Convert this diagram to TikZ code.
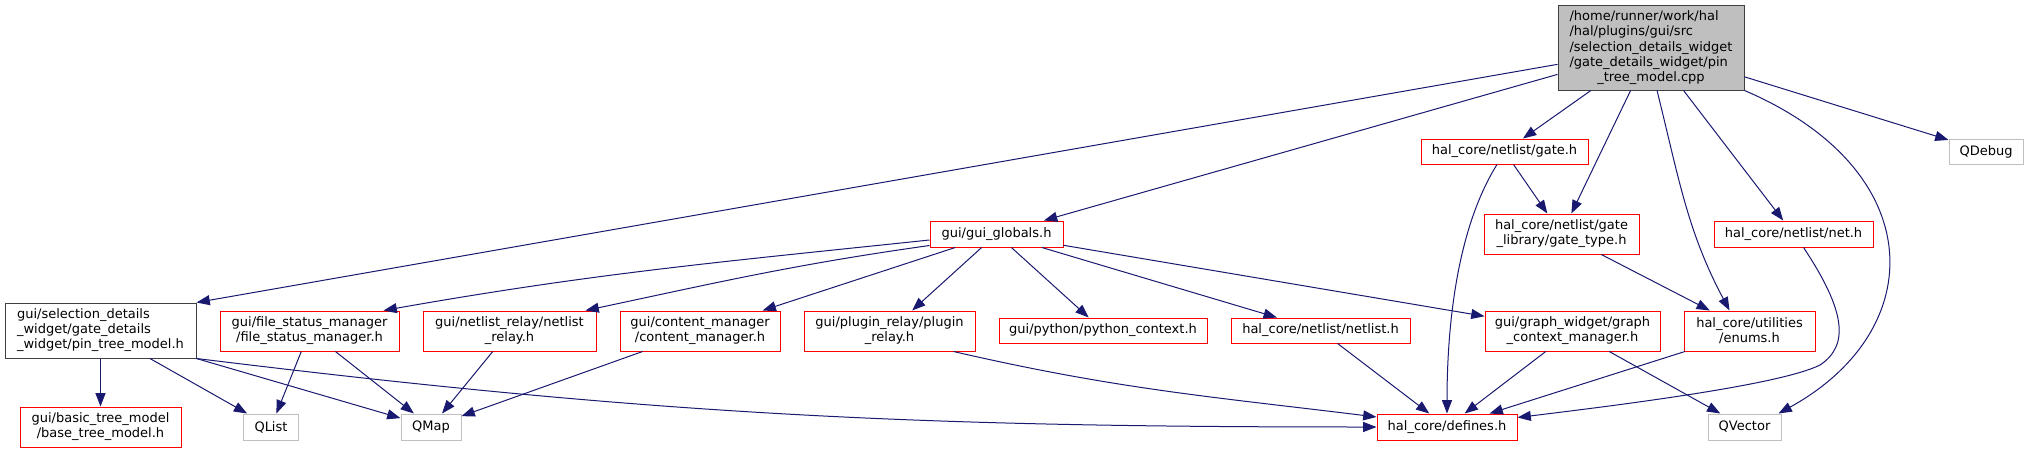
\documentclass[tikz,border=0pt]{standalone}
\usepackage{fontspec}
\setmainfont{DejaVu Sans}
\usetikzlibrary{arrows.meta,calc}

\definecolor{edgeblue}{RGB}{25,25,112}
\definecolor{boxred}{RGB}{255,0,0}
\definecolor{extgrey}{RGB}{191,191,191}
\definecolor{darkgrey}{RGB}{64,64,64}

\begin{document}
\begin{tikzpicture}[x=0.75pt, y=-0.75pt,
  >={Triangle[length=10pt,width=7.5pt]},
  hdr/.style={draw=boxred, line width=0.75pt, fill=white, align=center,
    inner sep=1pt, font=\fontsize{9.75}{11.25}\selectfont},
  ext/.style={hdr, draw=extgrey},
  sz/.style 2 args={minimum width=#1, minimum height=#2},
  dep/.style={->, draw=edgeblue, line width=0.75pt}]

\useasboundingbox (0,0) rectangle (2029,453);

% ===== ROOT FILE =====
\node[hdr, draw=darkgrey, fill=extgrey, sz={139.5pt}{63pt}] (root) at (1651,48)
  {\begin{tabular}{@{}l@{}}/home/runner/work/hal\\/hal/plugins/gui/src\\/selection\_details\_widget\\/gate\_details\_widget/pin\\\multicolumn{1}{@{}c@{}}{\_tree\_model.cpp}\end{tabular}};

% ===== FIRST LEVEL =====
\node[hdr, sz={125.25pt}{18.75pt}] (gate) at (1504.5,151.5) {hal\_core/netlist/gate.h};
\node[ext, sz={55.5pt}{18.75pt}] (qdebug) at (1986,151.5) {QDebug};
\node[hdr, sz={99.75pt}{19.5pt}] (globals) at (996.5,234) {gui/gui\_globals.h};
\node[hdr, sz={116.25pt}{30pt}] (gtype) at (1561.5,234) {hal\_core/netlist/gate\\\_library/gate\_type.h};
\node[hdr, sz={119.25pt}{19.5pt}] (net) at (1793.5,234) {hal\_core/netlist/net.h};

% ===== SECOND LEVEL =====
\node[hdr, draw=darkgrey, align=left, sz={143.25pt}{41.25pt}] (pin) at (100.5,330.5)
  {gui/selection\_details\\\_widget/gate\_details\\\_widget/pin\_tree\_model.h};
\node[hdr, sz={134.25pt}{30pt}] (fsm) at (309.5,331) {gui/file\_status\_manager\\/file\_status\_manager.h};
\node[hdr, sz={129.75pt}{30pt}] (nrelay) at (509.5,331) {gui/netlist\_relay/netlist\\\_relay.h};
\node[hdr, sz={120pt}{30pt}] (cmgr) at (700,331) {gui/content\_manager\\/content\_manager.h};
\node[hdr, sz={128.25pt}{30pt}] (prelay) at (889.5,331) {gui/plugin\_relay/plugin\\\_relay.h};
\node[hdr, sz={156pt}{18.75pt}] (python) at (1103,330.5) {gui/python/python\_context.h};
\node[hdr, sz={134.25pt}{18.75pt}] (netlist) at (1320.5,330.5) {hal\_core/netlist/netlist.h};
\node[hdr, sz={131.25pt}{30pt}] (gcm) at (1572.5,331) {gui/graph\_widget/graph\\\_context\_manager.h};
\node[hdr, sz={98.25pt}{30pt}] (enums) at (1749.5,331) {hal\_core/utilities\\/enums.h};

% ===== BOTTOM LEVEL =====
\node[hdr, sz={120.75pt}{30pt}] (btm) at (100.5,427) {gui/basic\_tree\_model\\/base\_tree\_model.h};
\node[ext, sz={41.25pt}{19.5pt}] (qlist) at (271,427) {QList};
\node[ext, sz={45pt}{19.5pt}] (qmap) at (431,427) {QMap};
\node[hdr, sz={105pt}{19.5pt}] (defines) at (1447,427) {hal\_core/defines.h};
\node[ext, sz={54.75pt}{19.5pt}] (qvector) at (1744.5,427) {QVector};

% ===== EDGES FROM ROOT =====
\draw[dep] (root) -- (pin.north east);
\draw[dep] (root) -- (globals);
\draw[dep] (root) -- (gate);
\draw[dep] (root) -- (gtype);
\draw[dep] ($(root.south)+(6,0)$) to[out=-76, in=118] ($(enums.north)+(-20,0)$);
\draw[dep] (root) -- (net);
\draw[dep] (root.south east) .. controls (1930,170) and (1930,330) .. ($(qvector.north east)+(-3,0)$);
\draw[dep] (root) -- (qdebug);

% ===== HAL CORE EDGES =====
\draw[dep] ($(gate.south)+(-7.5,0)$) to[out=238, in=90, looseness=0.8] (defines.north);
\draw[dep] (gate) -- (gtype);
\draw[dep] (gtype) -- (enums);
\draw[dep] ($(net.south)+(10,0)$) .. controls (1845,310) and (1850,345) .. (1820,365)
  .. controls (1780,385) and (1620,405) .. ($(defines.north east)+(0,4)$);
\draw[dep] (enums) -- (defines);
\draw[dep] (gcm) -- (defines);
\draw[dep] (gcm) -- (qvector);
\draw[dep] (netlist) -- (defines);
\draw[dep] ($(prelay.south)+(64,0)$) to[out=-13, in=173] ($(defines.west)+(0,-10)$);

% ===== EDGES FROM PIN TREE MODEL =====
\draw[dep] (pin) -- (btm);
\draw[dep] (pin) -- (qlist);
\draw[dep] (pin) -- (qmap);
\draw[dep] (pin.south east) to[out=-7, in=180] (defines.west);

% ===== EDGES FROM GUI GLOBALS =====
\draw[dep] ($(globals.west)+(0,6)$) to[out=186, in=10] ($(fsm.north)+(74,0)$);
\draw[dep] ($(globals.south west)+(0,-2)$) to[out=188, in=12] ($(nrelay.north)+(76,0)$);
\draw[dep] (globals) -- (cmgr);
\draw[dep] (globals) -- (prelay);
\draw[dep] (globals) -- (python);
\draw[dep] (globals) -- (netlist);
\draw[dep] (globals) -- (gcm);

% ===== EDGES TO QT HEADERS =====
\draw[dep] (fsm) -- (qlist);
\draw[dep] (fsm) -- (qmap);
\draw[dep] (nrelay) -- (qmap);
\draw[dep] (cmgr) -- (qmap);

\end{tikzpicture}
\end{document}
